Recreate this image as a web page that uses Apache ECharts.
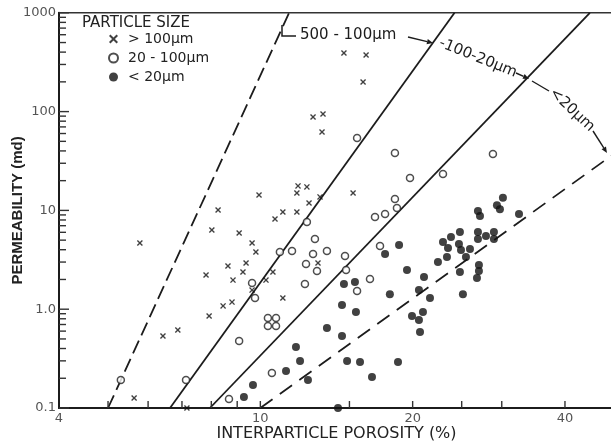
<!DOCTYPE html>
<html><head><meta charset="utf-8">
<script src="https://cdn.jsdelivr.net/npm/echarts@6/dist/echarts.min.js"></script>
<style>html,body{margin:0;padding:0;background:#fff}#c{width:611px;height:445px}</style>
</head><body><div id="c"></div>
<script>
// ---- data (porosity %, permeability md) ----
const coarseName = '> 100μm';
const mediumName = '20 - 100μm';
const fineName = '< 20μm';

const coarse = [
[5.78,4.68],[5.63,0.126],[7.16,0.1],[6.42,0.535],[6.87,0.616],[7.92,0.853],[8.44,1.08],[8.79,1.18],
[7.81,2.22],[8.02,6.33],[8.25,10.1],[8.63,2.74],[8.83,1.97],[9.08,5.91],[9.24,2.38],[9.37,2.93],
[9.63,4.68],[9.80,3.79],[9.63,1.56],[9.94,14.3],[10.26,1.97],[10.59,2.38],[10.69,8.18],[11.08,9.63],
[11.81,9.63],[11.81,15.0],[11.87,17.7],[12.36,17.3],[12.48,11.9],[13.12,13.7],[15.25,15.0],[12.71,88.2],
[13.30,94.5],[13.24,62.2],[14.63,392],[16.18,374],[15.96,199],[13.00,2.93],[11.08,1.30]
];
const medium = [
[5.30,0.192],[7.13,0.192],[8.67,0.123],[9.08,0.477],[9.63,1.84],[9.76,1.30],[10.35,0.815],[10.74,0.815],
[10.35,0.676],[10.74,0.676],[10.54,0.226],[10.93,3.79],[11.55,3.88],[12.31,2.87],[12.36,7.63],[12.71,3.62],
[12.82,5.13],[12.94,2.44],[13.54,3.88],[12.25,1.80],[14.70,3.46],[14.77,2.49],[15.53,1.53],[16.47,2.02],
[15.53,54.0],[16.85,8.58],[17.64,9.19],[18.45,13.05],[18.62,10.6],[17.24,4.36],[18.45,38.1],[19.76,21.3],
[22.96,23.4],[28.82,37.2]
];
const fine = [
[30.16,13.4],[29.35,11.3],[29.75,10.3],[26.92,9.86],[27.17,8.78],[32.45,9.19],[24.80,6.04],[26.92,6.04],
[28.95,6.04],[27.92,5.51],[22.96,4.79],[23.81,5.38],[26.92,5.13],[28.95,5.13],[23.49,4.16],[24.69,4.57],
[24.92,3.97],[25.96,4.07],[25.49,3.38],[23.38,3.38],[22.44,3.00],[18.80,4.47],[17.64,3.62],[27.04,2.80],
[27.04,2.44],[26.80,2.07],[24.80,2.38],[19.49,2.49],[21.06,2.12],[20.58,1.56],[21.64,1.30],[25.14,1.42],
[18.03,1.42],[20.96,0.937],[19.94,0.853],[20.58,0.778],[20.68,0.588],[14.63,1.80],[15.38,1.88],[14.50,1.10],
[15.45,0.937],[13.54,0.645],[14.50,0.535],[11.76,0.414],[11.98,0.299],[14.84,0.299],[15.74,0.292],[18.71,0.292],
[11.24,0.237],[12.42,0.192],[16.62,0.206],[14.24,0.1],[9.67,0.171],[9.28,0.129]
];

// boundary lines (end points in data units)
const line500 = [[5.0,0.1],[11.4,1000]];
const line100 = [[6.63,0.1],[24.2,1000]];
const line20  = [[7.95,0.1],[44.8,1000]];
const lineLow = [[10,0.1],[50,37.4]];

// axes
const xMin = 4, xMax = 50, yMin = 0.1, yMax = 1000;
const xTicks = [5,6,7,8,9,10,15,20,25,30,40];
const xTickLabels = [4,10,20,40];
const yMajorTicks = [0.1,1,10,100,1000];
const yMinorTicks = [0.2,0.3,0.4,0.5,0.6,0.7,0.8,0.9,2,3,4,5,6,7,8,9,20,30,40,50,60,70,80,90,200,300,400,500,600,700,800,900];

const xTitle = 'INTERPARTICLE POROSITY (%)';
const yTitle = 'PERMEABILITY (md)';
const legendTitle = 'PARTICLE SIZE';

// ---- chart ----
const FONT = '"DejaVu Sans"';
const INK = '#1c1c1c';
const crossPath = 'path://M0,1.6L1.6,0L5,3.4L8.4,0L10,1.6L6.6,5L10,8.4L8.4,10L5,6.6L1.6,10L0,8.4L3.4,5Z';

function arrow(x1,y1,x2,y2){
  const a = Math.atan2(y2-y1,x2-x1), L=6, W=2.6;
  const bx = x2 - L*Math.cos(a), by = y2 - L*Math.sin(a);
  const px = -Math.sin(a)*W, py = Math.cos(a)*W;
  return [
    {type:'line', shape:{x1:x1,y1:y1,x2:bx,y2:by}, style:{stroke:INK, lineWidth:1.4}},
    {type:'polygon', shape:{points:[[x2,y2],[bx+px,by+py],[bx-px,by-py]]}, style:{fill:INK}}
  ];
}
function txt(x,y,text,rotDeg,align){
  return {type:'text', x:x, y:y, rotation:(rotDeg||0)*Math.PI/180,
    style:{text:text, font:'15px '+FONT, fill:INK, align:align||'center', textAlign:align||'center',
      verticalAlign:'middle', textVerticalAlign:'middle'}};
}

function lineSeries(data, dash){
  return {type:'line', data:data, symbol:'none', silent:true, z:2,
    lineStyle:{color:INK, width:1.8, type:dash||'solid'}};
}

const chart = echarts.init(document.getElementById('c'), null, {renderer:'canvas'});
chart.setOption({
  animation:false,
  backgroundColor:'#fff',
  textStyle:{fontFamily:'DejaVu Sans'},
  grid:{left:59, right:-3, top:12.8, bottom:37, show:true, borderColor:'#333', borderWidth:1.5,
    containLabel:false, outerBoundsMode:'none'},
  xAxis:{type:'log', logBase:10, min:xMin, max:xMax,
    axisLine:{lineStyle:{color:INK, width:2}}, axisTick:{show:false}, axisLabel:{show:false},
    splitLine:{show:false},
    name:xTitle, nameLocation:'middle', nameGap:18, nameMoveOverlap:false,
    nameTextStyle:{fontFamily:'DejaVu Sans', fontSize:16, color:'#222'}},
  yAxis:{type:'log', logBase:10, min:yMin, max:yMax,
    axisLine:{lineStyle:{color:INK, width:2}}, axisTick:{show:false},
    axisLabel:{margin:3, fontFamily:'DejaVu Sans', fontSize:13, color:'#555',
      showMinLabel:true, showMaxLabel:true,
      formatter:function(v){ return Math.abs(v-1)<1e-9 ? '1.0' : String(+v.toPrecision(3)); }},
    splitLine:{show:false}, minorTick:{show:false},
    name:yTitle, nameLocation:'middle', nameGap:34, nameMoveOverlap:false,
    nameTextStyle:{fontFamily:'Liberation Sans', fontSize:15, fontWeight:'bold', color:'#222'}},
  legend:{data:[coarseName, mediumName, fineName], orient:'vertical', left:103, top:27,
    itemWidth:9, itemHeight:9, itemGap:5, selectedMode:false,
    textStyle:{fontFamily:'DejaVu Sans', fontSize:14, color:'#222', lineHeight:14, padding:[0,0,0,5]}},
  series:[
    lineSeries(line500,[14,6]),
    lineSeries(line100),
    lineSeries(line20),
    lineSeries(lineLow,[15,9]),
    {type:'scatter', name:coarseName, data:coarse, symbol:crossPath, symbolSize:6, clip:false, z:3,
      itemStyle:{color:'#111'}},
    {type:'scatter', name:mediumName, data:medium, symbol:'circle', symbolSize:7, clip:false, z:3,
      itemStyle:{color:'#fff', borderColor:'#222', borderWidth:1.5}},
    {type:'scatter', name:fineName, data:fine, symbol:'circle', symbolSize:8, clip:false, z:3,
      itemStyle:{color:'#111'}},
    // y-axis ticks (inside)
    {type:'custom', silent:true, z:4,
      data: yMajorTicks.map(v=>[xMin,v,10]).concat(yMinorTicks.map(v=>[xMin,v,7])),
      renderItem:function(params, api){
        const p = api.coord([api.value(0), api.value(1)]);
        const len = api.value(2);
        return {type:'rect', shape:{x:p[0], y:p[1]-0.7, width:len, height:1.4}, style:{fill:'#333'}};
      }},
    // x-axis ticks (inside)
    {type:'custom', silent:true, z:4,
      data: xTicks.map(v=>[v,yMin]),
      renderItem:function(params, api){
        const p = api.coord([api.value(0), api.value(1)]);
        return {type:'rect', shape:{x:p[0]-0.7, y:p[1]-7, width:1.4, height:7}, style:{fill:'#333'}};
      }},
    // x-axis labels
    {type:'custom', silent:true, z:4,
      data: xTickLabels.map(v=>[v,yMin]),
      renderItem:function(params, api){
        const p = api.coord([api.value(0), api.value(1)]);
        return {type:'text', x:p[0], y:p[1]+4,
          style:{text:String(api.value(0)), font:'13px '+FONT, fill:'#555',
            align:'center', textAlign:'center', verticalAlign:'top', textVerticalAlign:'top'}};
      }}
  ],
  graphic:[
    {type:'text', x:82, y:23, style:{text:legendTitle, font:'15px '+FONT, fill:'#222',
      align:'left', textAlign:'left', verticalAlign:'middle', textVerticalAlign:'middle'}},
    {type:'polyline', shape:{points:[[282,25],[282,36],[296,36]]}, style:{stroke:INK, lineWidth:1.5, fill:null}},
    txt(300,35,'500 - 100μm',0,'left'),
    ...arrow(408,37,433,43),
    txt(478,58,'-100-20μm',-22),
    ...arrow(516,73,529,79),
    {type:'line', shape:{x1:532,y1:81,x2:549,y2:91}, style:{stroke:INK, lineWidth:1.4}},
    txt(572,110,'<20μm',-43),
    ...arrow(593,131,607,153)
  ]
});
</script></body></html>
